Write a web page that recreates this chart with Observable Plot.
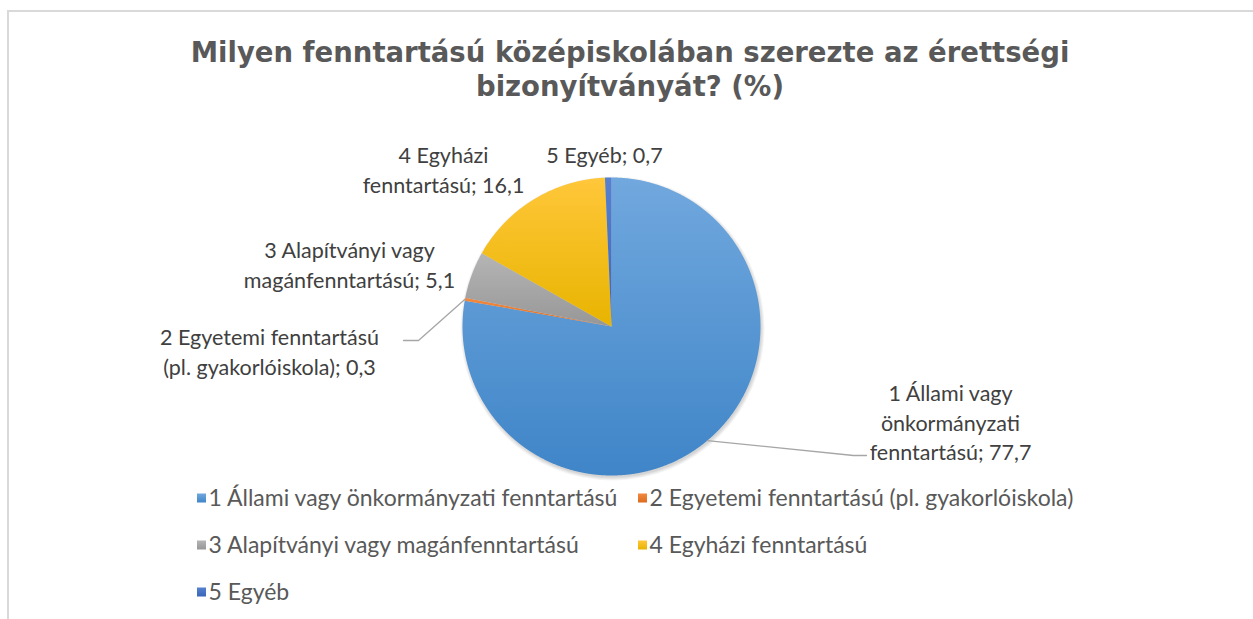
<!DOCTYPE html>
<html><head><meta charset="utf-8">
<script src="https://cdn.jsdelivr.net/npm/d3@7"></script>
<script src="https://cdn.jsdelivr.net/npm/@observablehq/plot@0.6"></script>
<style>
body{margin:0;background:#fff;}
#wrap{position:relative;width:1253px;height:619px;overflow:hidden;background:#fff;}
#frame{position:absolute;left:7px;top:10px;right:-5px;bottom:-5px;border-top:2px solid #d9d9d9;border-left:2px solid #d9d9d9;}
#title{position:absolute;left:7px;width:1246px;top:35px;text-align:center;font-family:"DejaVu Sans";font-weight:bold;font-size:27.5px;line-height:34px;color:#595959;}
#chart{position:absolute;left:0;top:0;}
</style></head><body>
<div id="wrap"><div id="frame"></div><div id="chart"></div><div id="title">Milyen fenntartású középiskolában szerezte az érettségi<br>bizonyítványát? (%)</div></div>
<script>
// ---- data ----
const categories = [
  "1 Állami vagy önkormányzati fenntartású",
  "2 Egyetemi fenntartású (pl. gyakorlóiskola)",
  "3 Alapítványi vagy magánfenntartású",
  "4 Egyházi fenntartású",
  "5 Egyéb"
];
const values = [77.7, 0.3, 5.1, 16.1, 0.7];
const dataLabelNames = [
  "1 Állami vagy\nönkormányzati\nfenntartású",
  "2 Egyetemi fenntartású\n(pl. gyakorlóiskola)",
  "3 Alapítványi vagy\nmagánfenntartású",
  "4 Egyházi\nfenntartású",
  "5 Egyéb"
];

// ---- layout / style ----
const W = 1253, H = 619, cx = 611, cy = 326, R = 149;
const gradients = [
  ["#71a8de", "#3f85c8"],
  ["#f28a40", "#dc6b1e"],
  ["#b5b5b5", "#979797"],
  ["#ffc73a", "#e8b400"],
  ["#5581cf", "#3a66b8"]
];
const labelPos = [[950, 421], [269, 350], [349, 263], [443, 168], [604, 153]];
const leaderBends = {0: [[853, 455], [866, 455]], 1: [[418, 340], [403, 340]]};
const legendCols = [197, 638], legendRow0 = 498, legendRowGap = 47;

const fmt = v => d3.format(".1f")(v).replace(".", ",");
const arcs = d3.pie().sort(null).value(d => d)(values);

const piePts = [];
arcs.forEach((a, i) => {
  piePts.push({cat: categories[i], x: cx, y: cy});
  const n = Math.max(2, Math.ceil((a.endAngle - a.startAngle) / 0.004));
  for (let k = 0; k <= n; k++) {
    const t = a.startAngle + (a.endAngle - a.startAngle) * k / n;
    piePts.push({cat: categories[i], x: cx + R * Math.sin(t), y: cy - R * Math.cos(t)});
  }
});

// soft shadow rings (pure decoration, centred under the pie)
const shadowRings = [1, 2, 3, 4].map(k => ({x: cx + 1, y: cy + 2, r: R + k - 1}));

const leaderPts = [];
Object.entries(leaderBends).forEach(([i, bends]) => {
  const a = arcs[+i], m = (a.startAngle + a.endAngle) / 2;
  leaderPts.push({id: i, x: cx + R * Math.sin(m), y: cy - R * Math.cos(m)});
  bends.forEach(([x, y]) => leaderPts.push({id: i, x, y}));
});

const labelData = categories.map((c, i) => ({
  text: dataLabelNames[i] + "; " + fmt(values[i]),
  x: labelPos[i][0], y: labelPos[i][1]
}));

const legendData = categories.map((c, i) => ({
  cat: c,
  x: legendCols[i % 2],
  y: legendRow0 + Math.floor(i / 2) * legendRowGap
}));

const defsMark = () => {
  const g = d3.create("svg:g");
  const defs = g.append("defs");
  gradients.forEach(([top, bot], i) => {
    const lg = defs.append("linearGradient").attr("id", "grad" + i)
      .attr("x1", 0).attr("y1", 0).attr("x2", 0).attr("y2", 1);
    lg.append("stop").attr("offset", "0%").attr("stop-color", top);
    lg.append("stop").attr("offset", "100%").attr("stop-color", bot);
  });
  return g.node();
};

const chart = Plot.plot({
  width: W, height: H, margin: 0,
  x: {domain: [0, W], range: [0, W], axis: null},
  y: {domain: [0, H], range: [0, H], axis: null},
  r: {type: "identity"},
  color: {domain: categories, range: categories.map((c, i) => `url(#grad${i})`)},
  style: {fontFamily: "Lato", background: "transparent", overflow: "visible"},
  marks: [
    defsMark,
    Plot.dot(shadowRings, {x: "x", y: "y", r: "r", fill: "#000", fillOpacity: 0.045, stroke: "none"}),
    Plot.line(piePts, {x: "x", y: "y", z: "cat", fill: "cat", curve: "linear-closed"}),
    Plot.line(leaderPts, {x: "x", y: "y", z: "id", stroke: "#a6a6a6", strokeWidth: 1.3}),
    Plot.text(labelData, {x: "x", y: "y", text: "text", fontSize: 21.5, lineHeight: 29.5 / 21.5, fill: "#404040", textAnchor: "middle", lineAnchor: "middle"}),
    Plot.rect(legendData, {x1: d => d.x, x2: d => d.x + 9, y1: d => d.y - 4.5, y2: d => d.y + 4.5, fill: "cat"}),
    Plot.text(legendData, {x: d => d.x + 11, y: "y", text: "cat", fontSize: 23, fill: "#595959", textAnchor: "start"})
  ]
});
document.getElementById("chart").appendChild(chart);
</script>
</body></html>
